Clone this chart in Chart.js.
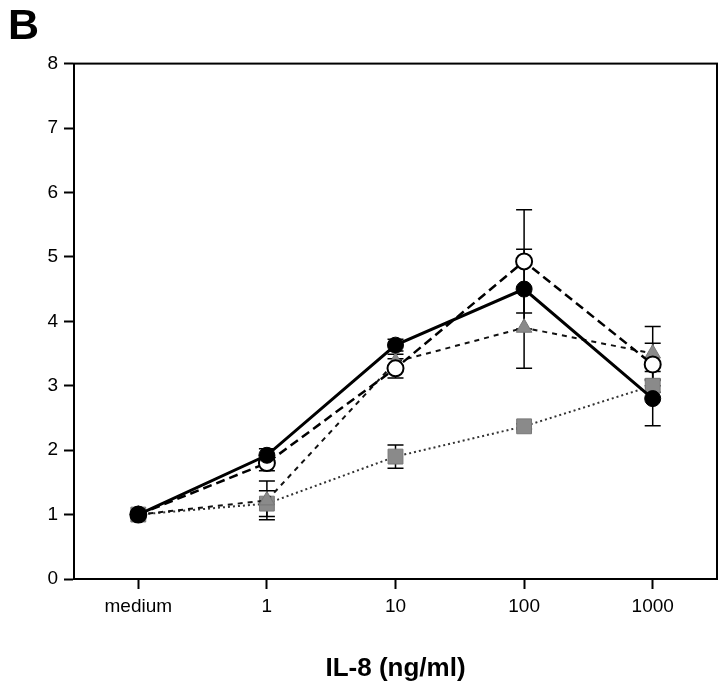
<!DOCTYPE html>
<html>
<head>
<meta charset="utf-8">
<script src="https://cdn.jsdelivr.net/npm/chart.js@4.4.1/dist/chart.umd.min.js"></script>
<style>
  html, body { margin: 0; padding: 0; background: #fff; }
</style>
</head>
<body>
<canvas id="myChart" width="720" height="690"></canvas>
<script>
const doses = ['medium', '1', '10', '100', '1000']

const filledCircle = [1.0, 1.92, 3.63, 4.5, 2.8]
const filledCircleErr = [0, 0.1, 0.09, 0.62, 0.42]

const openCircle = [1.0, 1.8, 3.27, 4.93, 3.33]
const openCircleErr = [0, 0.12, 0.15, 0.8, 0.33]

const triangle = [1.0, 1.22, 3.37, 3.9, 3.5]
const triangleErr = [0, 0.3, 0.12, 0.63, 0.42]

const square = [1.0, 1.17, 1.9, 2.37, 3.0]
const squareErr = [0, 0.2, 0.18, 0.04, 0.1]

const yTicks = [0, 1, 2, 3, 4, 5, 6, 7, 8]

const FONT = "'Liberation Sans', Arial, Helvetica, sans-serif"

// error bars drawn under the markers, from the y scale
const errorBars = {
  id: 'errorBars',
  beforeDatasetsDraw(chart) {
    const { ctx, scales: { x, y } } = chart
    chart.data.datasets.forEach(ds => {
      if (!ds.errors) return
      ctx.save()
      ctx.strokeStyle = '#000'
      ctx.lineWidth = 1.5
      ds.data.forEach((v, j) => {
        const e = ds.errors[j]
        if (!e) return
        const px = x.getPixelForValue(j)
        const top = y.getPixelForValue(v + e)
        const bot = y.getPixelForValue(v - e)
        ctx.beginPath()
        ctx.moveTo(px, top); ctx.lineTo(px, bot)
        ctx.moveTo(px - 8, top); ctx.lineTo(px + 8, top)
        ctx.moveTo(px - 8, bot); ctx.lineTo(px + 8, bot)
        ctx.stroke()
      })
      ctx.restore()
    })
  }
}

// frame round the plot
const frame = {
  id: 'frame',
  afterDraw(chart) {
    const { ctx, chartArea: a } = chart
    ctx.save()
    ctx.strokeStyle = '#000'
    ctx.lineWidth = 2
    ctx.strokeRect(a.left, a.top, a.right - a.left, a.bottom - a.top)
    ctx.restore()
  }
}

const ctx = document.getElementById('myChart').getContext('2d')
new Chart(ctx, {
  type: 'line',
  data: {
    labels: doses,
    datasets: [
      {
        label: 'filled circle',
        data: filledCircle,
        errors: filledCircleErr,
        borderColor: '#000',
        borderWidth: 3,
        pointStyle: 'circle',
        pointRadius: 8,
        pointBackgroundColor: '#000',
        pointBorderColor: '#000',
        pointBorderWidth: 1,
      },
      {
        label: 'open circle',
        data: openCircle,
        errors: openCircleErr,
        borderColor: '#000',
        borderWidth: 2.5,
        borderDash: [9, 5],
        pointStyle: 'circle',
        pointRadius: 8,
        pointBackgroundColor: '#fff',
        pointBorderColor: '#000',
        pointBorderWidth: 2,
      },
      {
        label: 'triangle',
        data: triangle,
        errors: triangleErr,
        borderColor: '#111',
        borderWidth: 2,
        borderDash: [5, 5],
        pointStyle: 'triangle',
        pointRadius: 9,
        pointBackgroundColor: '#8a8a8a',
        pointBorderColor: '#777',
        pointBorderWidth: 1,
      },
      {
        label: 'square',
        data: square,
        errors: squareErr,
        borderColor: '#333',
        borderWidth: 2,
        borderDash: [2, 3],
        pointStyle: 'rect',
        pointRadius: 10.5,
        pointBackgroundColor: '#8a8a8a',
        pointBorderColor: '#777',
        pointBorderWidth: 1,
      },
    ]
  },
  options: {
    responsive: false,
    animation: false,
    layout: { autoPadding: false, padding: { left: 8, right: 3, top: 0, bottom: 0 } },
    elements: { line: { tension: 0 } },
    scales: {
      x: {
        type: 'category',
        offset: true,
        grid: { display: true, drawOnChartArea: false, offset: false, tickLength: 10, tickColor: '#000', tickWidth: 2 },
        border: { display: true, color: '#000', width: 2 },
        ticks: { color: '#000', padding: 6, font: { family: FONT, size: 19 }, maxRotation: 0 },
        title: { display: true, text: 'IL-8 (ng/ml)', color: '#000', font: { family: FONT, size: 26, weight: 'bold' }, padding: { top: 0, bottom: 6 } },
        afterFit(scale) { scale.height = 111 },
      },
      y: {
        min: 0,
        max: 8,
        afterBuildTicks(scale) { scale.ticks = yTicks.map(v => ({ value: v })) },
        grid: { display: true, drawOnChartArea: false, tickLength: 10, tickColor: '#000', tickWidth: 2 },
        border: { display: true, color: '#000', width: 2 },
        ticks: { color: '#000', padding: 6, font: { family: FONT, size: 19 } },
        afterFit(scale) { scale.width = 66 },
      }
    },
    plugins: {
      legend: { display: false },
      tooltip: { enabled: false },
      title: {
        display: true,
        text: 'B',
        align: 'start',
        color: '#000',
        font: { family: FONT, size: 43, weight: 'bold' },
        padding: { top: 1, bottom: 11 },
      }
    }
  },
  plugins: [errorBars, frame]
})
</script>
</body>
</html>
